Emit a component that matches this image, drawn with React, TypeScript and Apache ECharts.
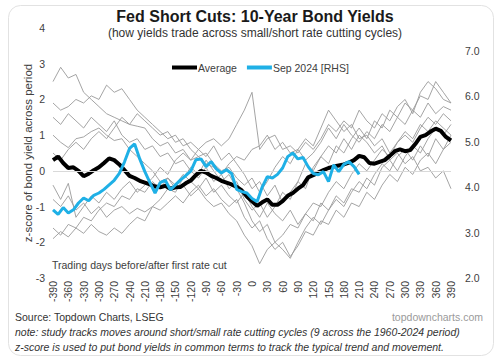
import React, { useEffect, useRef } from "react";
import * as echarts from "echarts";

const FONT = '"Liberation Sans", Arial, sans-serif';

// x grids (trading days relative to first cut)
const DAYS_10 = [-390,-380,-370,-360,-350,-340,-330,-320,-310,-300,-290,-280,-270,-260,-250,-240,-230,-220,-210,-200,-190,-180,-170,-160,-150,-140,-130,-120,-110,-100,-90,-80,-70,-60,-50,-40,-30,-20,-10,0,10,20,30,40,50,60,70,80,90,100,110,120,130,140,150,160,170,180,190,200,210,220,230,240,250,260,270,280,290,300,310,320,330,340,350,360,370,380,390];
const DAYS_15 = [-390,-375,-360,-345,-330,-315,-300,-285,-270,-255,-240,-225,-210,-195,-180,-165,-150,-135,-120,-105,-90,-75,-60,-45,-30,-15,0,15,30,45,60,75,90,105,120,135,150,165,180,195,210,225,240,255,270,285,300,315,330,345,360,375,390];

// Average z-score (LHS), every 10 days
const AVERAGE = [0.30,0.40,0.22,0.08,0.10,0.00,-0.15,-0.08,0.02,0.10,0.22,0.35,0.30,0.18,0.02,-0.14,-0.20,-0.28,-0.33,-0.38,-0.44,-0.46,-0.42,-0.50,-0.46,-0.45,-0.35,-0.27,-0.12,0.00,-0.05,-0.14,-0.20,-0.28,-0.33,-0.38,-0.45,-0.55,-0.72,-0.85,-0.98,-0.88,-0.80,-0.95,-0.95,-0.85,-0.70,-0.62,-0.50,-0.40,-0.18,-0.12,-0.05,0.02,0.08,0.12,0.15,0.18,0.23,0.30,0.42,0.38,0.22,0.20,0.25,0.30,0.42,0.55,0.60,0.55,0.58,0.75,0.95,1.00,1.10,1.18,1.12,0.95,0.85];

// Sep 2024 10y yield (RHS), every 10 days from -390 to 210
const SEP2024 = [3.50,3.40,3.55,3.43,3.50,3.65,3.76,3.70,3.82,3.87,3.95,4.05,4.15,4.30,4.55,4.85,4.95,4.62,4.34,4.10,3.87,4.10,4.15,3.94,4.05,4.16,4.25,4.35,4.60,4.62,4.45,4.56,4.40,4.31,4.38,4.30,3.95,3.90,3.87,3.75,3.68,4.00,4.23,4.20,4.28,4.42,4.67,4.75,4.62,4.65,4.45,4.30,4.27,4.34,4.12,4.49,4.34,4.50,4.56,4.45,4.28];

// Individual cycles (LHS z-scores), every 15 days
const CYCLE_A = [2.5,2.9,2.6,2.7,2.2,2.0,1.8,1.6,1.5,1.4, 1.3,1.25,1.2,0.9,0.7,0.8,0.5,0.6,0.3,0.4, 0.2,0.1,-0.1,0.2,0.4,0.3,0.6,0.7,1.0,0.6, 0.8,0.5,0.6,0.3,0.5,0.8,1.2,0.9,1.3,1.0, 0.8,1.1,0.9,1.3,1.1,1.5,1.3,1.7,1.5,1.9, 1.6,1.8,1.7];
const CYCLE_B = [1.9,1.7,1.8,2.0,1.9,2.1,2.0,2.4,2.2,2.3, 2.0,1.7,1.5,1.3,1.1,0.9,1.0,0.7,0.8,0.6, 0.8,0.9,0.7,0.9,1.3,1.7,2.2,0.6,0.9,1.0, 0.6,0.7,0.5,0.8,0.6,0.9,1.3,1.1,1.4,1.2, 1.7,1.4,1.2,1.6,1.4,1.8,2.0,1.6,2.2,2.5, 2.3,2.0,1.9];
const CYCLE_C = [1.0,0.8,0.65,0.9,0.95,1.1,1.2,1.0,0.85,0.9, 0.6,0.4,0.2,0.0,-0.3,-0.2,-0.5,-0.4,-0.7,-0.5, -0.8,-1.0,-0.9,-1.2,-1.4,-1.8,-2.1,-2.6,-2.2,-2.0, -1.8,-1.5,-1.6,-1.2,-0.9,-1.0,-0.6,-0.3,-0.5,-0.1, 0.2,0.0,0.3,0.6,0.4,0.8,1.0,0.8,1.2,1.5, 1.3,1.6,1.4];
const CYCLE_D = [1.5,1.3,1.6,1.4,1.2,1.5,1.3,1.1,1.4,1.0, 0.8,0.9,0.6,0.7,0.4,0.5,0.2,0.3,0.0,-0.2, 0.1,-0.3,-0.1,-0.5,-0.3,-0.8,-1.1,-0.9,-1.3,-1.0, -0.6,-0.8,-0.3,-0.5,0.1,0.4,0.2,0.7,0.5,0.9, 1.2,0.9,1.4,1.2,1.7,1.5,1.9,1.7,2.1,2.0, 2.5,2.2,1.9];
const CYCLE_E = [-0.4,-0.8,-0.35,-1.3,-1.0,-0.7,-0.9,-0.6,-0.8,-0.5, -0.3,-0.6,-0.4,-0.2,0.1,-0.1,0.3,0.5,0.3,0.6, 0.4,0.7,0.3,0.5,0.2,-0.1,-0.5,-0.3,-0.7,-0.4, -0.9,-0.6,-0.3,0.2,0.0,0.4,0.7,0.5,0.9,0.6, 1.0,0.8,0.5,0.7,0.3,0.5,0.2,0.4,0.0,0.1, -0.2,0.0,-0.5];
const CYCLE_F = [-0.8,-1.0,-0.7,-1.1,-0.9,-1.2,-1.0,-1.3,-1.1,-1.0, -1.2,-1.05,-1.15,-1.0,-1.1,-0.9,-0.7,-0.9,-0.6,-0.4, -0.7,-0.5,-0.8,-1.0,-0.8,-1.3,-1.6,-1.4,-1.9,-2.2, -2.0,-2.4,-2.1,-1.7,-1.8,-1.4,-1.5,-1.1,-1.3,-0.9, -1.0,-0.6,-0.8,-0.4,-0.1,-0.3,0.1,-0.1,0.3,0.5, 0.2,0.6,0.8];
const CYCLE_G = [-1.6,-1.8,-1.5,-1.6,-1.3,-1.4,-1.1,-0.9,-1.0,-0.7, -0.8,-0.5,-0.6,-0.3,-0.5,-0.2,-0.4,-0.1,-0.3,-0.5, -0.2,-0.6,-0.4,-0.7,-0.9,-0.6,-1.0,-1.3,-0.9,-1.2, -1.4,-1.1,-1.5,-1.2,-1.4,-0.9,-1.1,-0.7,-0.9,-0.5, -0.6,-0.2,-0.4,0.1,0.3,0.0,0.4,0.7,0.5,0.9, 1.2,1.0,1.3];
const CYCLE_H = [-1.9,-1.7,-1.85,-1.6,-1.75,-1.5,-1.7,-1.8,-1.6,-1.75, -1.5,-1.3,-1.4,-1.0,-0.8,-0.5,-0.6,-0.2,0.1,-0.1, 0.3,0.0,-0.3,-0.1,-0.5,-0.9,-1.4,-1.7,-1.5,-2.0, -2.2,-2.45,-2.0,-1.6,-1.3,-1.5,-1.1,-0.8,-1.0,-0.6, -0.3,-0.5,-0.1,0.2,0.0,0.4,0.6,0.3,0.7,0.4, 0.9,0.6,1.0];
const CYCLE_I = [0.5,0.3,0.6,0.8,0.6,0.9,1.1,0.9,1.2,1.5, 1.3,1.6,1.4,1.2,1.0,1.1,0.8,0.9,0.6,0.4, 0.5,0.2,0.0,0.1,-0.2,-0.4,-0.2,-0.6,-0.3,0.1, 0.4,0.2,0.6,0.9,0.7,1.2,1.7,1.4,1.1,1.3, 0.9,1.0,0.7,0.9,0.5,0.8,1.1,0.9,1.3,1.1, 1.4,1.2,1.0];

const CYCLES = [CYCLE_A, CYCLE_B, CYCLE_C, CYCLE_D, CYCLE_E, CYCLE_F, CYCLE_G, CYCLE_H, CYCLE_I];

const pair = (xs: number[], ys: number[]) => ys.map((y, i) => [xs[i], y]);

export default function App() {
  const ref = useRef<HTMLDivElement>(null);
  useEffect(() => {
    const chart = echarts.init(ref.current!, null, { renderer: "svg" });
    const grayColor = "#9a9a9a";
    const textColor = "#404040";
    const series: any[] = CYCLES.map((c, i) => ({
      name: "Cycle " + (i + 1),
      type: "line",
      yAxisIndex: 0,
      data: pair(DAYS_15, c),
      showSymbol: false,
      symbol: "none",
      lineStyle: { color: grayColor, width: 0.9 },
      itemStyle: { color: grayColor },
      z: 2,
      silent: true,
      ...(i === 0
        ? {
            markLine: {
              silent: true,
              symbol: "none",
              label: { show: false },
              lineStyle: { color: "#d9d9d9", width: 1, type: "solid" },
              data: [{ yAxis: 0 }],
            },
          }
        : {}),
    }));
    series.push({
      name: "Average",
      type: "line",
      yAxisIndex: 0,
      data: pair(DAYS_10, AVERAGE),
      showSymbol: false,
      symbol: "none",
      lineStyle: { color: "#000000", width: 4 },
      itemStyle: { color: "#000000" },
      z: 4,
    });
    series.push({
      name: "Sep 2024 [RHS]",
      type: "line",
      yAxisIndex: 1,
      data: pair(DAYS_10, SEP2024),
      showSymbol: false,
      symbol: "none",
      lineStyle: { color: "#1fb0e6", width: 3 },
      itemStyle: { color: "#1fb0e6" },
      z: 5,
    });

    const option: any = {
      animation: false,
      backgroundColor: "#ffffff",
      textStyle: { fontFamily: FONT },
      grid: { left: 53, right: 49, top: 28, bottom: 84, containLabel: false },
      legend: {
        data: [
          { name: "Average", icon: "rect" },
          { name: "Sep 2024 [RHS]", icon: "rect" },
        ],
        left: 172,
        top: 62,
        itemWidth: 25,
        itemHeight: 4,
        itemGap: 10,
        padding: 0,
        textStyle: { fontSize: 10.5, color: textColor, fontFamily: FONT, padding: [0, 0, 0, -4] },
      },
      xAxis: {
        type: "value",
        min: -390,
        max: 390,
        interval: 30,
        axisLine: { show: false },
        axisTick: { show: false },
        splitLine: { show: false },
        axisLabel: { rotate: 90, fontSize: 10.5, color: textColor, margin: 3, fontFamily: FONT },
      },
      yAxis: [
        {
          type: "value",
          min: -3,
          max: 4,
          interval: 1,
          axisLine: { show: false },
          axisTick: { show: false },
          splitLine: { show: false },
          axisLabel: { fontSize: 10.5, color: textColor, margin: 8, fontFamily: FONT },
        },
        {
          type: "value",
          position: "right",
          min: 2,
          max: 7.5,
          interval: 1,
          axisLine: { show: false },
          axisTick: { show: false },
          splitLine: { show: false },
          axisLabel: {
            fontSize: 10.5,
            color: textColor,
            margin: 14,
            fontFamily: FONT,
            showMaxLabel: false,
            formatter: (v: number) => v.toFixed(1),
          },
        },
      ],
      graphic: [
        {
          type: "rect",
          shape: { x: 8.5, y: 5.5, width: 485, height: 350, r: 12 },
          style: { fill: "none", stroke: "#e2e2e2", lineWidth: 1 },
          silent: true,
          z: -10,
        },
        {
          type: "text",
          x: 255,
          y: 16,
          style: { text: "Fed Short Cuts: 10-Year Bond Yields", font: `bold 16px ${FONT}`, fill: "#1a1a1a", align: "center", verticalAlign: "middle" },
        },
        {
          type: "text",
          x: 255,
          y: 33,
          style: { text: "(how yields trade across small/short rate cutting cycles)", font: `12px ${FONT}`, fill: "#333333", align: "center", verticalAlign: "middle" },
        },
        {
          type: "text",
          x: 28,
          y: 153,
          rotation: Math.PI / 2,
          style: { text: "z-score of bond yield across period", font: `11.5px ${FONT}`, fill: textColor, align: "center", verticalAlign: "middle" },
        },
        {
          type: "text",
          x: 52,
          y: 265,
          style: { text: "Trading days before/after first rate cut", font: `10.5px ${FONT}`, fill: textColor, align: "left", verticalAlign: "middle" },
        },
        {
          type: "text",
          x: 15,
          y: 317,
          style: { text: "Source: Topdown Charts, LSEG", font: `10.5px ${FONT}`, fill: "#333333", align: "left", verticalAlign: "middle" },
        },
        {
          type: "text",
          x: 483,
          y: 317,
          style: { text: "topdowncharts.com", font: `10.5px ${FONT}`, fill: "#9a9a9a", align: "right", verticalAlign: "middle" },
        },
        {
          type: "text",
          x: 15,
          y: 332,
          style: { text: "note: study tracks moves around short/small rate cutting cycles (9 across the 1960-2024 period)", font: `italic 10.5px ${FONT}`, fill: "#333333", align: "left", verticalAlign: "middle" },
        },
        {
          type: "text",
          x: 15,
          y: 347,
          style: { text: "z-score is used to put bond yields in common terms to track the typical trend and movement.", font: `italic 10.5px ${FONT}`, fill: "#333333", align: "left", verticalAlign: "middle" },
        },
      ],
      series,
    };
    chart.setOption(option);
    return () => chart.dispose();
  }, []);
  return <div ref={ref} style={{ position: "absolute", left: 0, top: 0, width: 500, height: 362 }} />;
}
